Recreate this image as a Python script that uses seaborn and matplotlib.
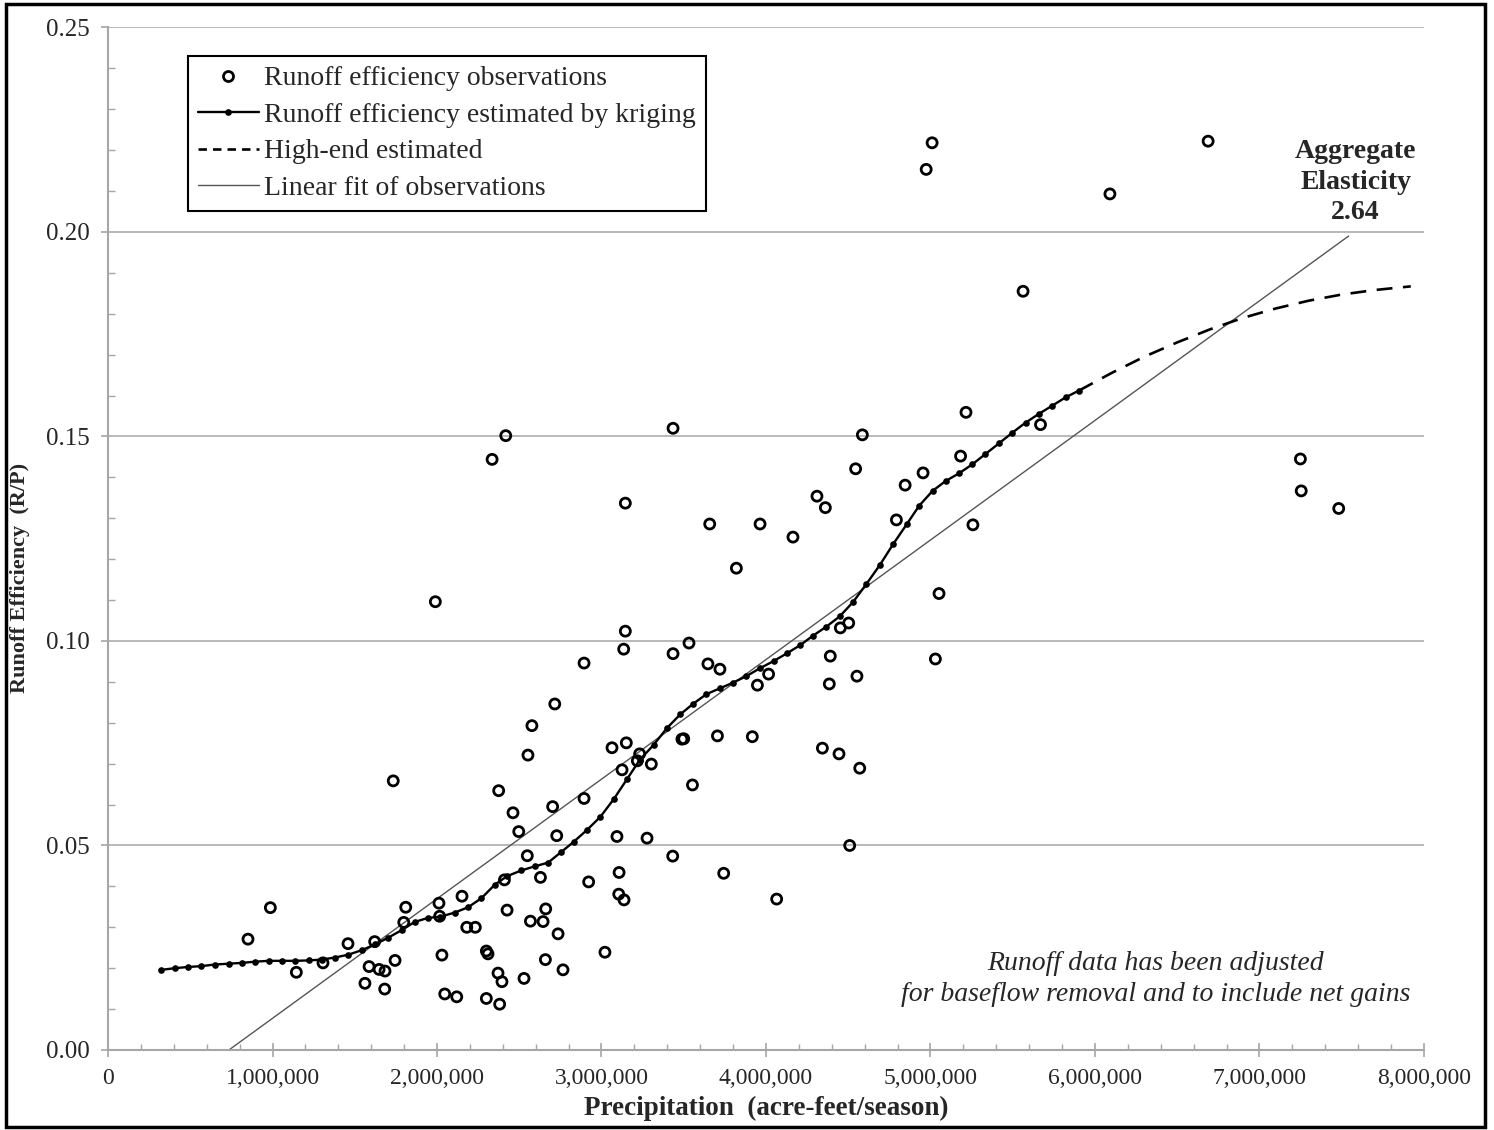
import numpy as np
import pandas as pd
import seaborn as sns
import matplotlib.pyplot as plt
from matplotlib.lines import Line2D
from matplotlib.patches import Rectangle
from matplotlib.ticker import MultipleLocator, StrMethodFormatter

## Observations (precipitation in million acre-feet, runoff efficiency)
obs_x = [0.851, 0.987, 1.145, 1.307, 1.459, 1.621, 1.562, 1.587, 1.648, 1.684,
         1.682, 1.745, 1.810, 1.798, 2.012, 2.016, 2.030, 2.047, 2.120, 2.152,
         2.181, 2.233, 2.300, 2.310, 2.300, 2.371, 2.395, 2.381, 2.410, 2.426,
         2.529, 2.549, 2.568, 2.629, 2.645, 2.661, 2.659, 2.736, 2.766, 3.021,
         2.716, 2.577, 2.553, 2.375, 2.462, 2.497, 2.703, 2.894, 2.728, 2.922,
         3.064, 3.151, 3.232, 3.218, 3.303, 3.125, 3.094, 3.277, 3.107, 3.105,
         3.137, 3.489, 3.500, 3.553, 3.705, 3.917, 3.433, 3.743, 4.065, 4.343,
         4.444, 4.570, 4.509, 2.418, 2.335, 3.435, 4.586, 4.545, 4.310, 4.361,
         3.145, 3.658, 3.964, 4.164, 3.820, 4.793, 1.990, 3.145, 3.135, 3.532,
         3.435, 3.647, 3.720, 2.894, 3.948, 4.016, 4.391, 4.385, 4.553, 4.452,
         4.503, 5.052, 5.030, 5.010, 4.974, 6.688, 6.091, 5.563, 5.216, 5.669,
         5.183, 4.955, 4.846, 5.258, 7.249, 7.254, 7.482, 1.734]
obs_y = [0.0271, 0.0348, 0.0190, 0.0213, 0.0260, 0.0265, 0.0163, 0.0204, 0.0197, 0.0193,
         0.0149, 0.0219, 0.0349, 0.0312, 0.0359, 0.0327, 0.0232, 0.0137, 0.0130, 0.0376,
         0.0300, 0.0300, 0.0242, 0.0235, 0.0126, 0.0188, 0.0167, 0.0112, 0.0416, 0.0342,
         0.0175, 0.0475, 0.0315, 0.0422, 0.0314, 0.0345, 0.0221, 0.0284, 0.0196, 0.0239,
         0.0846, 0.0793, 0.0721, 0.0634, 0.0580, 0.0534, 0.0595, 0.0615, 0.0524, 0.0411,
         0.0739, 0.0751, 0.0724, 0.0707, 0.0699, 0.0685, 0.0522, 0.0518, 0.0434, 0.0381,
         0.0367, 0.0760, 0.0761, 0.0648, 0.0768, 0.0766, 0.0474, 0.0432, 0.0369, 0.0738,
         0.0724, 0.0689, 0.0500, 0.1502, 0.1444, 0.1520, 0.1504, 0.1421, 0.1354, 0.1326,
         0.1337, 0.1286, 0.1286, 0.1254, 0.1178, 0.1296, 0.1096, 0.1024, 0.0980, 0.0995,
         0.0969, 0.0944, 0.0931, 0.0946, 0.0892, 0.0919, 0.0963, 0.0895, 0.0914, 0.1032,
         0.1044, 0.1116, 0.0956, 0.2218, 0.2153, 0.2222, 0.2093, 0.1855, 0.1559, 0.1529,
         0.1452, 0.1411, 0.1381, 0.1284, 0.1445, 0.1367, 0.1324, 0.0658]

## Kriging estimate
krig_x = [0.325, 0.407, 0.486, 0.568, 0.649, 0.734, 0.815, 0.896, 0.977, 1.058,
          1.139, 1.220, 1.299, 1.378, 1.461, 1.542, 1.623, 1.705, 1.785, 1.864,
          1.945, 2.021, 2.108, 2.189, 2.270, 2.351, 2.426, 2.513, 2.594, 2.675,
          2.752, 2.831, 2.912, 2.993, 3.074, 3.155, 3.232, 3.317, 3.398, 3.480,
          3.556, 3.638, 3.719, 3.799, 3.881, 3.962, 4.047, 4.128, 4.209, 4.286,
          4.367, 4.448, 4.529, 4.610, 4.691, 4.772, 4.855, 4.932, 5.013, 5.092,
          5.174, 5.255, 5.334, 5.416, 5.497, 5.579, 5.658, 5.739, 5.823, 5.902]
krig_y = [0.0196, 0.0200, 0.0203, 0.0205, 0.0209, 0.0211, 0.0213, 0.0216, 0.0218, 0.0218,
          0.0218, 0.0219, 0.0221, 0.0226, 0.0233, 0.0244, 0.0258, 0.0275, 0.0293, 0.0313,
          0.0323, 0.0326, 0.0336, 0.0349, 0.0371, 0.0404, 0.0425, 0.0439, 0.0449, 0.0458,
          0.0483, 0.0509, 0.0538, 0.0570, 0.0613, 0.0662, 0.0709, 0.0746, 0.0787, 0.0821,
          0.0846, 0.0870, 0.0884, 0.0898, 0.0914, 0.0933, 0.0951, 0.0970, 0.0990, 0.1013,
          0.1035, 0.1060, 0.1095, 0.1139, 0.1185, 0.1236, 0.1285, 0.1331, 0.1367, 0.1391,
          0.1410, 0.1432, 0.1457, 0.1483, 0.1509, 0.1534, 0.1555, 0.1575, 0.1596, 0.1612]

## High-end estimate (dashed)
high_x = [5.902, 6.10, 6.30, 6.50, 6.70, 6.90, 7.10, 7.30, 7.50, 7.70, 7.92]
high_y = [0.1612, 0.1655, 0.1695, 0.1730, 0.1762, 0.1790, 0.1813, 0.1832, 0.1847, 0.1858, 0.1867]

## Linear fit of observations
fit_x = [0.735, 7.542]
fit_y = [0.0, 0.199]

M = 1e6
obs = pd.DataFrame({'precip': np.array(obs_x) * M, 'eff': obs_y})
krig = pd.DataFrame({'precip': np.array(krig_x) * M, 'eff': krig_y})

sns.set_style('white')
plt.rcParams['font.family'] = ['Liberation Serif', 'DejaVu Serif']

fig = plt.figure(figsize=(14.94, 11.30), dpi=100)
ax = fig.add_axes([0.0723, 0.0708, 0.8808, 0.9049])

grid_c = '#a6a6a6'
ax.yaxis.grid(True, color=grid_c, lw=1.1)
ax.set_axisbelow(True)

ax.plot(np.array(fit_x) * M, fit_y, color='#555555', lw=1.0, zorder=2)
sns.lineplot(data=krig, x='precip', y='eff', ax=ax, color='black', lw=1.7,
             marker='o', markersize=4.8, markeredgewidth=0, zorder=3)
ax.plot(np.array(high_x) * M, high_y, color='black', lw=1.9, dashes=(6, 4), zorder=3)
sns.scatterplot(data=obs, x='precip', y='eff', ax=ax, s=52, facecolor='none',
                edgecolor='black', linewidth=2.0, zorder=4)

ax.set_xlim(0, 8 * M)
ax.set_ylim(0, 0.25)
ax.xaxis.set_major_locator(MultipleLocator(1 * M))
ax.xaxis.set_minor_locator(MultipleLocator(0.2 * M))
ax.yaxis.set_major_locator(MultipleLocator(0.05))
ax.yaxis.set_minor_locator(MultipleLocator(0.01))
ax.xaxis.set_major_formatter(StrMethodFormatter('{x:,.0f}'))
ax.yaxis.set_major_formatter(StrMethodFormatter('{x:.2f}'))

for side in ['top', 'right']:
    ax.spines[side].set_visible(False)
for side in ['left', 'bottom']:
    ax.spines[side].set_color(grid_c)
    ax.spines[side].set_linewidth(1.5)

ax.tick_params(axis='both', which='both', bottom=True, left=True)
ax.tick_params(axis='x', which='major', direction='inout', length=10, width=1.2,
               color=grid_c, labelsize=17, pad=8)
ax.tick_params(axis='x', which='minor', direction='in', length=4.5, width=1.0, color=grid_c)
ax.tick_params(axis='y', which='major', direction='out', length=5, width=1.2,
               color=grid_c, labelsize=18, pad=8)
ax.tick_params(axis='y', which='minor', direction='in', length=5, width=1.0, color=grid_c)

ax.set_xlabel('Precipitation  (acre-feet/season)', fontsize=19.5, fontweight='bold')
ax.xaxis.set_label_coords(0.5, -0.045)
ax.set_ylabel('Runoff Efficiency  (R/P)', fontsize=16, fontweight='bold')
ax.yaxis.set_label_coords(-0.0595, 0.462)

handles = [
    Line2D([], [], ls='none', marker='o', ms=7.2, mfc='none', mec='black', mew=2.0),
    Line2D([], [], color='black', lw=1.7, marker='o', ms=4.8, mew=0),
    Line2D([], [], color='black', lw=1.9, dashes=(3.2, 2.3)),
    Line2D([], [], color='#555555', lw=1.0),
]
labels = ['Runoff efficiency observations', 'Runoff efficiency estimated by kriging',
          'High-end estimated', 'Linear fit of observations']
leg = ax.legend(handles, labels, loc='upper left', bbox_to_anchor=(0.0608, 0.972),
                borderaxespad=0, fontsize=20, handlelength=2.2, handletextpad=0.2,
                labelspacing=0.4, borderpad=0.35, fancybox=False, framealpha=1,
                edgecolor='black')
leg.get_frame().set_linewidth(1.5)

ax.text(7.585 * M, 0.2122, 'Aggregate\nElasticity\n2.64', ha='center', va='center',
        fontsize=20, fontweight='bold', linespacing=1.3)
ax.text(6.369 * M, 0.0174,
        'Runoff data has been adjusted\nfor baseflow removal and to include net gains',
        ha='center', va='center', fontsize=20, style='italic', linespacing=1.3)

fig.patches.append(Rectangle((0.0037, 0.0027), 0.9903, 0.9938, transform=fig.transFigure,
                             fill=False, edgecolor='black', lw=2.5))

fig.savefig('out.png', dpi=100)
